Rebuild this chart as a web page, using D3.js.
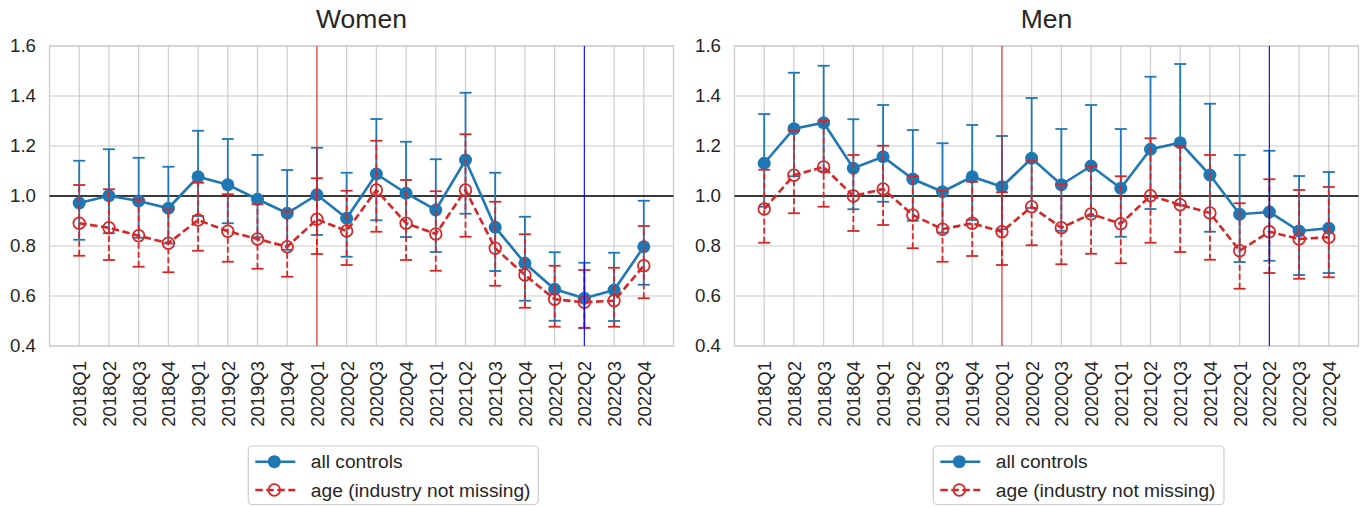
<!DOCTYPE html>
<html><head><meta charset="utf-8">
<script src="https://cdn.jsdelivr.net/npm/d3@7"></script>
<style>
html,body{margin:0;padding:0;background:#fff;}
svg text{font-family:"Liberation Sans",Arial,sans-serif;fill:#262626;}
</style></head>
<body><svg id="c" width="1362" height="507"></svg>
<script>
const quarters = ["2018Q1","2018Q2","2018Q3","2018Q4","2019Q1","2019Q2","2019Q3","2019Q4","2020Q1","2020Q2","2020Q3","2020Q4","2021Q1","2021Q2","2021Q3","2021Q4","2022Q1","2022Q2","2022Q3","2022Q4"];
const yTicks = [0.4,0.6,0.8,1.0,1.2,1.4,1.6];
const seriesNames = ["all controls","age (industry not missing)"];
const panelTitles = ["Women","Men"];
const redLineAt = "2020Q1";
const blueLineAt = "2022Q2";

const womenAll   = [0.972,1.001,0.980,0.951,1.077,1.045,0.987,0.931,1.005,0.911,1.088,1.011,0.944,1.144,0.875,0.731,0.627,0.591,0.624,0.797];
const womenAllLo = [0.825,0.851,0.833,0.810,0.920,0.891,0.835,0.785,0.844,0.757,0.903,0.836,0.776,0.929,0.700,0.581,0.501,0.471,0.500,0.645];
const womenAllHi = [1.141,1.187,1.153,1.117,1.261,1.228,1.164,1.104,1.193,1.093,1.308,1.217,1.147,1.413,1.093,0.917,0.775,0.733,0.773,0.981];
const womenAge   = [0.891,0.873,0.841,0.811,0.904,0.859,0.828,0.797,0.907,0.860,1.024,0.891,0.848,1.024,0.791,0.684,0.587,0.575,0.581,0.721];
const womenAgeLo = [0.761,0.744,0.717,0.695,0.781,0.737,0.709,0.677,0.768,0.724,0.857,0.744,0.701,0.837,0.641,0.553,0.477,0.473,0.477,0.591];
const womenAgeHi = [1.044,1.027,0.986,0.946,1.053,1.007,0.967,0.938,1.071,1.021,1.221,1.064,1.019,1.247,0.977,0.847,0.721,0.704,0.713,0.880];

const menAll   = [1.131,1.269,1.293,1.111,1.157,1.068,1.017,1.077,1.037,1.151,1.045,1.120,1.031,1.187,1.213,1.084,0.927,0.936,0.860,0.871];
const menAllLo = [0.957,1.079,1.099,0.947,0.977,0.901,0.854,0.904,0.867,0.952,0.861,0.920,0.837,0.948,0.963,0.857,0.736,0.741,0.684,0.692];
const menAllHi = [1.328,1.493,1.521,1.307,1.364,1.264,1.211,1.284,1.240,1.392,1.268,1.364,1.268,1.477,1.528,1.369,1.164,1.181,1.080,1.096];
const menAge   = [0.948,1.083,1.116,1.000,1.028,0.924,0.867,0.891,0.857,0.957,0.873,0.928,0.889,1.001,0.965,0.932,0.781,0.857,0.828,0.835];
const menAgeLo = [0.813,0.931,0.957,0.860,0.884,0.791,0.737,0.760,0.724,0.803,0.727,0.769,0.731,0.813,0.776,0.745,0.629,0.692,0.669,0.675];
const menAgeHi = [1.105,1.260,1.301,1.164,1.201,1.079,1.020,1.057,1.015,1.140,1.048,1.120,1.079,1.231,1.200,1.164,0.971,1.067,1.024,1.036];

(function(){
const BLUE = "#1f77b4", RED = "#d62728", GRID = "#cccccc";
const svg = d3.select("#c");
const yTop = 46, yBot = 346;
const panels = [
  {x0:49.5, x1:673.5, title:panelTitles[0], a:[womenAll,womenAllLo,womenAllHi], b:[womenAge,womenAgeLo,womenAgeHi], leg:[248.3,538.3]},
  {x0:734.5, x1:1358.5, title:panelTitles[1], a:[menAll,menAllLo,menAllHi], b:[menAge,menAgeLo,menAgeHi], leg:[933.3,1224]}
];

panels.forEach(p => {
  const x = d3.scalePoint().domain(quarters).range([p.x0,p.x1]).padding(1);
  const y = d3.scaleLinear().domain([0.4,1.6]).range([yBot,yTop]);
  const g = svg.append("g");

  g.selectAll(".gy").data(yTicks).join("line")
    .attr("x1",p.x0).attr("x2",p.x1).attr("y1",d=>y(d)).attr("y2",d=>y(d))
    .attr("stroke",GRID).attr("stroke-width",1.2);
  g.selectAll(".gx").data(quarters).join("line")
    .attr("x1",d=>x(d)).attr("x2",d=>x(d)).attr("y1",yTop).attr("y2",yBot)
    .attr("stroke",GRID).attr("stroke-width",1.2);
  g.append("rect").attr("x",p.x0).attr("y",yTop).attr("width",p.x1-p.x0).attr("height",yBot-yTop)
    .attr("fill","none").attr("stroke",GRID).attr("stroke-width",1.3);

  const ya = d3.axisLeft(y).tickValues(yTicks).tickFormat(d3.format(".1f")).tickSize(0).tickPadding(13.5);
  const yg = g.append("g").attr("transform",`translate(${p.x0},0)`).call(ya);
  yg.select(".domain").remove();
  yg.selectAll("text").attr("font-size","18.7px").attr("fill","#262626")
    .attr("font-family","Liberation Sans, Arial, sans-serif");
  const xa = d3.axisBottom(x).tickSize(0).tickPadding(0);
  const xg = g.append("g").attr("transform",`translate(0,${yBot})`).call(xa);
  xg.select(".domain").remove();
  xg.selectAll("text").attr("font-size","18.5px").attr("fill","#262626")
    .attr("font-family","Liberation Sans, Arial, sans-serif")
    .attr("transform","rotate(-90)").attr("text-anchor","end")
    .attr("x",-15).attr("y",0).attr("dy","0.35em");

  g.append("line").attr("x1",p.x0).attr("x2",p.x1).attr("y1",y(1)).attr("y2",y(1))
    .attr("stroke","#000").attr("stroke-width",1.5);

  g.append("text").attr("x",(p.x0+p.x1)/2).attr("y",28).attr("text-anchor","middle")
    .attr("font-size","26.5px").text(p.title);

  function drawSeries(vals, color, dashed, filled){
    const [c, lo, hi] = vals;
    const idx = d3.range(quarters.length);
    const eb = g.append("g");
    eb.selectAll(".v").data(idx).join("line")
      .attr("x1",i=>x(quarters[i])).attr("x2",i=>x(quarters[i]))
      .attr("y1",i=>y(lo[i])).attr("y2",i=>y(hi[i]))
      .attr("stroke",color).attr("stroke-width",1.8)
      .attr("stroke-dasharray",dashed?"6,3":null);
    [lo,hi].forEach(arr=>{
      eb.append("g").selectAll("line").data(idx).join("line")
        .attr("x1",i=>x(quarters[i])-6).attr("x2",i=>x(quarters[i])+6)
        .attr("y1",i=>y(arr[i])).attr("y2",i=>y(arr[i]))
        .attr("stroke",color).attr("stroke-width",1.8);
    });
    const line = d3.line().x((d,i)=>x(quarters[i])).y(d=>y(d));
    g.append("path").datum(c).attr("d",line).attr("fill","none")
      .attr("stroke",color).attr("stroke-width",2.6)
      .attr("stroke-dasharray",dashed?"7.5,3.5":null);
    g.append("g").selectAll("circle").data(idx).join("circle")
      .attr("cx",i=>x(quarters[i])).attr("cy",i=>y(c[i]))
      .attr("r",filled?6.5:5.8)
      .attr("fill",filled?color:"none").attr("stroke",color).attr("stroke-width",filled?0:1.8);
  }
  drawSeries(p.a, BLUE, false, true);
  drawSeries(p.b, RED, true, false);

  g.append("line").attr("x1",x(redLineAt)).attr("x2",x(redLineAt)).attr("y1",yTop).attr("y2",yBot)
    .attr("stroke","red").attr("stroke-opacity",0.8).attr("stroke-width",1.1);
  g.append("line").attr("x1",x(blueLineAt)).attr("x2",x(blueLineAt)).attr("y1",yTop).attr("y2",yBot)
    .attr("stroke","blue").attr("stroke-opacity",0.95).attr("stroke-width",1.1);

  const lx = p.leg[0], lw = p.leg[1]-p.leg[0];
  const lg = svg.append("g");
  lg.append("rect").attr("x",lx).attr("y",446).attr("width",lw).attr("height",58.5).attr("rx",4)
    .attr("fill","#fff").attr("stroke",GRID).attr("stroke-width",1.2);
  const rows = [{name:seriesNames[0],color:BLUE,dashed:false,filled:true,y:461.7},
                {name:seriesNames[1],color:RED,dashed:true,filled:false,y:490}];
  rows.forEach(r=>{
    lg.append("line").attr("x1",lx+7).attr("x2",lx+47).attr("y1",r.y).attr("y2",r.y)
      .attr("stroke",r.color).attr("stroke-width",2.6).attr("stroke-dasharray",r.dashed?"7.5,3.5":null);
    lg.append("circle").attr("cx",lx+26).attr("cy",r.y).attr("r",r.filled?6.5:5.8)
      .attr("fill",r.filled?r.color:"none").attr("stroke",r.color).attr("stroke-width",r.filled?0:1.8);
    lg.append("text").attr("x",lx+62.5).attr("y",r.y).attr("dy","0.35em")
      .attr("font-size","19.2px").text(r.name);
  });
});
})();
</script></body></html>
